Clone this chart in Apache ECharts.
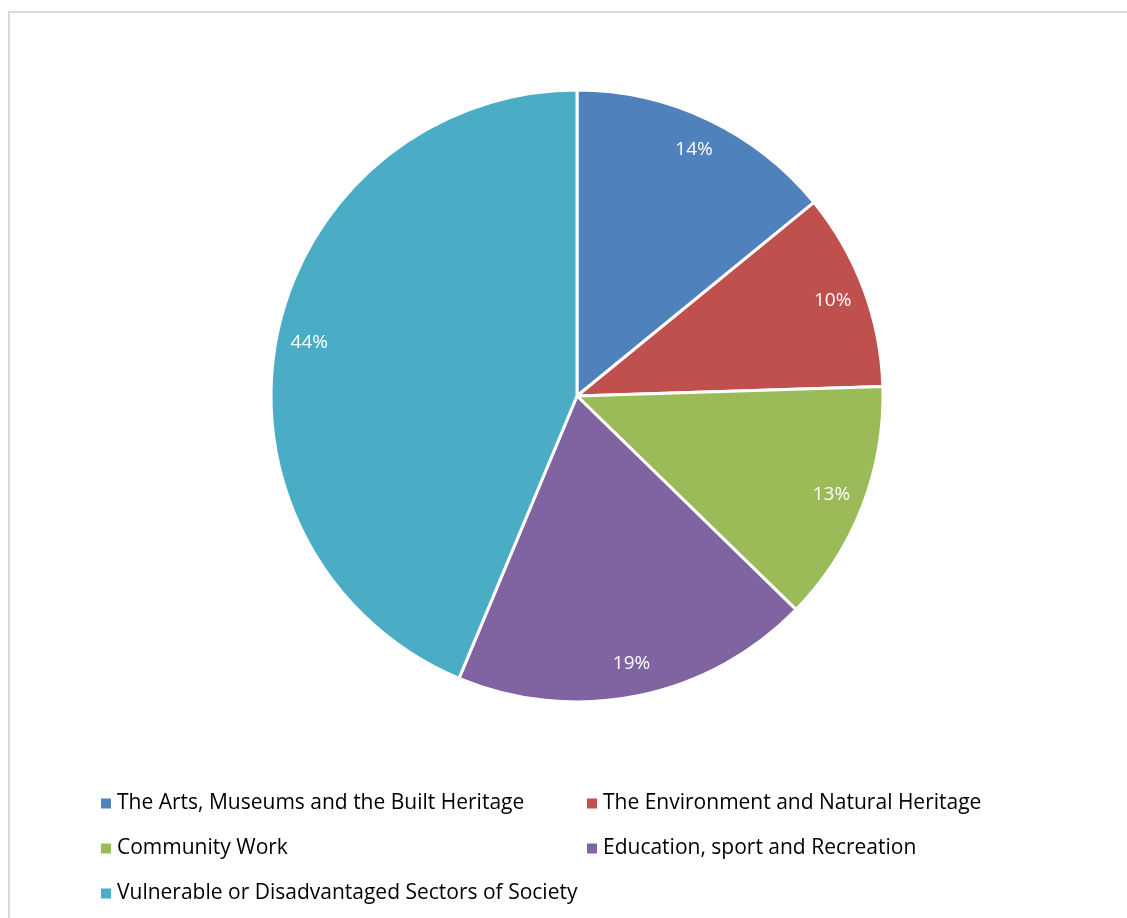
<!DOCTYPE html>
<html>
<head>
<meta charset="utf-8">
<style>html,body{margin:0;padding:0;background:#fff;}#c{width:1127px;height:918px;}</style>
<script src="https://cdn.jsdelivr.net/npm/echarts@6/dist/echarts.min.js"></script>
</head>
<body>
<div id="c"></div>
<script>
const categories = [
  "The Arts, Museums and the Built Heritage",
  "The Environment and Natural Heritage",
  "Community Work",
  "Education, sport and Recreation",
  "Vulnerable or Disadvantaged Sectors of Society"
];
const values = [14.1, 10.4, 12.8, 19.0, 43.7];
const colors = ["#4F81BD", "#C0504D", "#9BBB59", "#8064A2", "#4BACC6"];

const data = categories.map((n, i) => ({ name: n, value: values[i], itemStyle: { color: colors[i] } }));
const FONT = "Open Sans";

const legendCommon = {
  orient: 'vertical', top: 793, padding: 0,
  itemWidth: 12, itemHeight: 12, itemGap: 24, itemTextGap: 6, icon: 'rect',
  textStyle: { fontFamily: FONT, fontSize: 21, color: '#000' }
};

const chart = echarts.init(document.getElementById('c'), null, { renderer: 'canvas' });
chart.setOption({
  animation: false,
  graphic: [{
    type: 'rect', shape: { x: 9, y: 12, width: 1200, height: 1000 },
    style: { fill: 'none', stroke: '#d9d9d9', lineWidth: 2 }, silent: true
  }],
  legend: [
    Object.assign({ data: [categories[0], categories[2], categories[4]], left: 99 }, legendCommon),
    Object.assign({ data: [categories[1], categories[3]], left: 585 }, legendCommon)
  ],
  series: [
    {
      type: 'pie', center: [577, 396], radius: [0, 306],
      startAngle: 90, clockwise: true,
      data: data,
      itemStyle: { borderColor: '#fff', borderWidth: 3 },
      label: { show: false }, labelLine: { show: false },
      emphasis: { disabled: true }
    },
    {
      type: 'pie', center: [577, 396], radius: [234, 306],
      startAngle: 90, clockwise: true, silent: true,
      data: categories.map((n, i) => ({ name: n, value: values[i] })),
      itemStyle: { color: 'rgba(0,0,0,0)' },
      label: {
        show: true, position: 'inside', color: '#fff',
        fontFamily: FONT, fontSize: 19,
        formatter: p => Math.round(p.percent) + '%'
      },
      labelLine: { show: false },
      emphasis: { disabled: true }
    }
  ]
});
</script>
</body>
</html>
